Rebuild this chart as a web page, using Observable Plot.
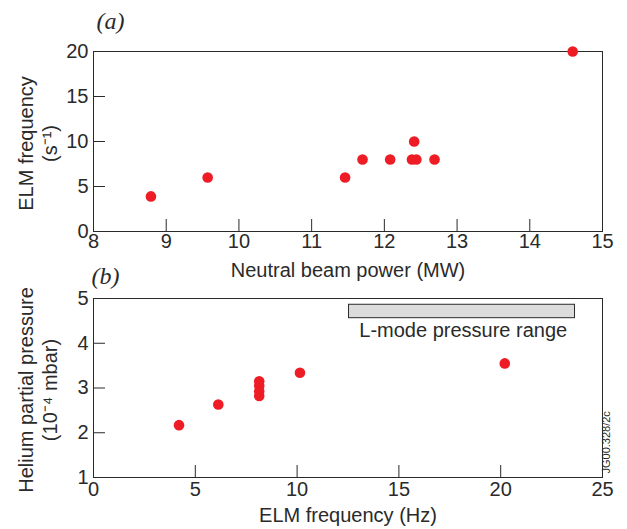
<!DOCTYPE html>
<html>
<head>
<meta charset="utf-8">
<script src="https://cdn.jsdelivr.net/npm/d3@7"></script>
<script src="https://cdn.jsdelivr.net/npm/@observablehq/plot@0.6"></script>
<style>
  html, body { margin: 0; padding: 0; background: #fff; }
  #chart { position: relative; width: 627px; height: 529px; background: #fff; }
  #chart svg { position: absolute; left: 0; overflow: visible; }
</style>
</head>
<body>
<div id="chart"></div>
<script>
// ---- Panel (a): ELM frequency vs neutral beam power ----
const beamPower   = [8.79, 9.57, 11.46, 11.70, 12.08, 12.38, 12.44, 12.41, 12.69, 14.59];
const elmFreqA    = [3.9,  6.0,  6.0,   8.0,   8.0,   8.0,   8.0,   10.0,  8.0,   20.0];
const xTicksA     = [8, 9, 10, 11, 12, 13, 14, 15];
const yTicksA     = [0, 5, 10, 15, 20];

// ---- Panel (b): helium partial pressure vs ELM frequency ----
const elmFreqB    = [4.2, 6.13, 8.14, 8.14, 8.14, 8.14, 10.14, 20.2];
const hePressure  = [2.17, 2.63, 3.15, 3.05, 2.93, 2.82, 3.34, 3.55];
const xTicksB     = [0, 5, 10, 15, 20, 25];
const yTicksB     = [1, 2, 3, 4, 5];
const lmodeRange  = [{x1: 12.55, x2: 23.65, y1: 4.56, y2: 4.86}];
const lmodeLabel  = [{x: 18.16, y: 4.28, text: "L-mode pressure range"}];

const RED = "#ee1c25";
const INK = "#2a2a2a";
const FONT = "'Liberation Sans', Arial, Helvetica, sans-serif";
const SERIF = "'Liberation Serif', 'Times New Roman', serif";
const W = 627, ML = 93, MR = 25, TICK = 12;

const dataA = beamPower.map((x, i) => ({x, y: elmFreqA[i]}));
const dataB = elmFreqB.map((x, i) => ({x, y: hePressure[i]}));

function panel({height, marginTop, marginBottom, xDomain, yDomain, xTicks, yTicks, data,
                xLabel, yLabel, tag, tagDy, tagDx, xPad, xLabelDy, yLabelDy = 0, extra = []}) {
  const frameH = height - marginTop - marginBottom;
  const frameW = W - ML - MR;
  const innerX = xTicks.slice(1, -1);
  const innerY = yTicks.slice(1, -1);
  return Plot.plot({
    width: W, height, marginLeft: ML, marginRight: MR, marginTop, marginBottom,
    style: {fontFamily: FONT, fontSize: "20px", color: INK, background: "transparent", overflow: "visible"},
    x: {domain: xDomain},
    y: {domain: yDomain},
    marks: [
      ...extra,
      Plot.frame({stroke: INK, strokeWidth: 1}),
      Plot.tickX(innerX, {x: d => d, stroke: INK, insetTop: frameH - TICK}),
      Plot.tickY(innerY, {y: d => d, stroke: INK, insetRight: frameW - TICK}),
      Plot.axisX({ticks: xTicks, tickFormat: d => String(d), tickSize: 0, tickPadding: xPad, label: null, fontSize: 20, fill: INK}),
      Plot.axisY({ticks: yTicks, tickFormat: d => String(d), tickSize: 0, tickPadding: 5, label: null, fontSize: 20, fill: INK}),
      Plot.dot(data, {x: "x", y: "y", r: 5.3, fill: RED}),
      Plot.text([xLabel], {text: d => d, frameAnchor: "bottom", textAnchor: "middle", dy: xLabelDy, fontSize: 20, fill: INK}),
      Plot.text([yLabel], {text: d => d, frameAnchor: "left", rotate: -90, textAnchor: "middle", lineAnchor: "middle",
                           dx: -56, dy: yLabelDy, lineHeight: 1.2, fontSize: 20, fill: INK}),
      Plot.text([tag], {text: d => d, frameAnchor: "top-left", textAnchor: "start", lineAnchor: "middle", dx: tagDx, dy: tagDy,
                        fontFamily: SERIF, fontStyle: "italic", fontSize: 24, fill: INK})
    ]
  });
}

const plotA = panel({
  height: 290, marginTop: 51, marginBottom: 59,
  xDomain: [8, 15], yDomain: [0, 20], xTicks: xTicksA, yTicks: yTicksA, data: dataA,
  xLabel: "Neutral beam power (MW)", yLabel: "ELM frequency\n(s⁻¹)",
  tag: "(a)", tagDx: 3, tagDy: -30, xPad: 2, xLabelDy: 45, yLabelDy: 2
});

const plotB = panel({
  height: 267, marginTop: 36, marginBottom: 52,
  xDomain: [0, 25], yDomain: [1, 5], xTicks: xTicksB, yTicks: yTicksB, data: dataB,
  xLabel: "ELM frequency (Hz)", yLabel: "Helium partial pressure\n(10⁻⁴ mbar)",
  tag: "(b)", tagDx: -2, tagDy: -22, xPad: 4, xLabelDy: 44, yLabelDy: 2,
  extra: [
    Plot.rect(lmodeRange, {x1: "x1", x2: "x2", y1: "y1", y2: "y2", fill: "#dcdcdc", stroke: INK, strokeWidth: 1}),
    Plot.text(lmodeLabel, {x: "x", y: "y", text: "text", fontSize: 20, fill: INK}),
    Plot.text(["JG00.328/2c"], {text: d => d, frameAnchor: "bottom-right", rotate: -90, textAnchor: "start",
                                dx: 7, dy: -4, fontSize: 11, fill: INK})
  ]
});

plotA.style.top = "0px";
plotB.style.top = "262px";
const chart = document.getElementById("chart");
chart.appendChild(plotA);
chart.appendChild(plotB);
</script>
</body>
</html>
